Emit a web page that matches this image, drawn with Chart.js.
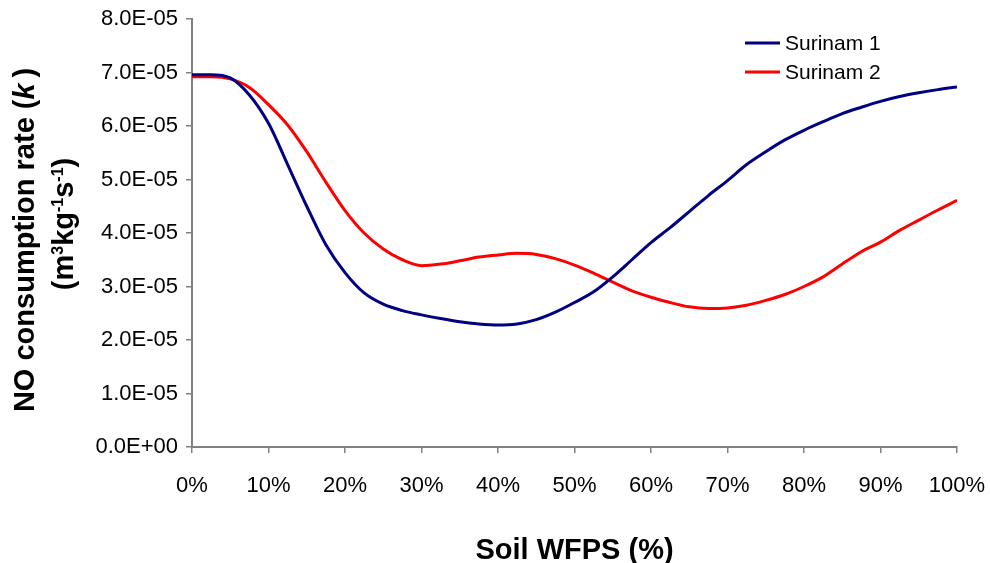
<!DOCTYPE html>
<html>
<head>
<meta charset="utf-8">
<title>NO consumption rate vs soil WFPS</title>
<script src="https://cdn.jsdelivr.net/npm/chart.js@4/dist/chart.umd.min.js"></script>
<style>
  html, body { margin: 0; padding: 0; background: #ffffff; }
  #wrap { width: 990px; height: 563px; position: relative; }
</style>
</head>
<body>
<div id="wrap"><canvas id="chart" width="990" height="563"></canvas></div>
<script>
// Soil water-filled pore space (%)
const wfps = [0, 2.5, 5, 7.5, 10, 12.5, 15, 17.5, 20, 22.5, 25, 27.5, 30, 32.5, 35, 37.5, 40,
  42.5, 45, 47.5, 50, 52.5, 55, 57.5, 60, 62.5, 65, 67.5, 70, 72.5, 75, 77.5, 80, 82.5, 85,
  87.5, 90, 92.5, 95, 97.5, 100];

// NO consumption rate k (m3 kg-1 s-1)
const surinam1 = [6.96e-5, 6.96e-5, 6.90e-5, 6.58e-5, 6.05e-5, 5.28e-5, 4.50e-5, 3.78e-5,
  3.26e-5, 2.88e-5, 2.67e-5, 2.55e-5, 2.47e-5, 2.40e-5, 2.34e-5, 2.30e-5, 2.28e-5, 2.30e-5,
  2.38e-5, 2.52e-5, 2.70e-5, 2.90e-5, 3.18e-5, 3.50e-5, 3.82e-5, 4.10e-5, 4.40e-5, 4.70e-5,
  4.98e-5, 5.28e-5, 5.52e-5, 5.74e-5, 5.92e-5, 6.08e-5, 6.23e-5, 6.35e-5, 6.46e-5, 6.55e-5,
  6.62e-5, 6.68e-5, 6.73e-5];

const surinam2 = [6.92e-5, 6.92e-5, 6.88e-5, 6.72e-5, 6.40e-5, 6.02e-5, 5.52e-5, 4.95e-5,
  4.42e-5, 4.00e-5, 3.70e-5, 3.50e-5, 3.39e-5, 3.42e-5, 3.48e-5, 3.55e-5, 3.59e-5, 3.62e-5,
  3.60e-5, 3.52e-5, 3.40e-5, 3.25e-5, 3.08e-5, 2.92e-5, 2.80e-5, 2.70e-5, 2.62e-5, 2.59e-5,
  2.60e-5, 2.65e-5, 2.74e-5, 2.85e-5, 3.00e-5, 3.18e-5, 3.42e-5, 3.65e-5, 3.83e-5, 4.05e-5,
  4.24e-5, 4.43e-5, 4.61e-5];

const seriesNames = ['Surinam 1', 'Surinam 2'];
const xTickStep = 10;
const yMax = 8e-5;
const yTickStep = 1e-5;

const FONT = "'Liberation Sans', Arial, Helvetica, sans-serif";
const AXIS_GREY = '#808080';

function toPoints(xs, ys) {
  return xs.map((x, i) => ({ x: x, y: ys[i] }));
}

// Excel-style scientific notation: 8.0E-05, 0.0E+00
function sci(v) {
  if (Math.abs(v) < 1e-12) return '0.0E+00';
  const e = Math.floor(Math.log10(Math.abs(v)) + 1e-9);
  const m = v / Math.pow(10, e);
  return m.toFixed(1) + 'E' + (e < 0 ? '-' : '+') + String(Math.abs(e)).padStart(2, '0');
}

// Rotated two-line y-axis title with italic k and superscripts
const yTitlePlugin = {
  id: 'yTitle',
  afterDraw(chart) {
    const ctx = chart.ctx;
    const size = 29;
    const supSize = 16;
    const runs1 = [
      { t: 'NO consumption rate (', f: 'bold ' + size + 'px ' + FONT, dy: 0 },
      { t: 'k', f: 'italic bold ' + size + 'px ' + FONT, dy: 0 },
      { t: '\u2009)', f: 'bold ' + size + 'px ' + FONT, dy: 0 }
    ];
    const runs2 = [
      { t: '(m', f: 'bold ' + size + 'px ' + FONT, dy: 0 },
      { t: '3', f: 'bold ' + supSize + 'px ' + FONT, dy: -10 },
      { t: 'kg', f: 'bold ' + size + 'px ' + FONT, dy: 0 },
      { t: '-1', f: 'bold ' + supSize + 'px ' + FONT, dy: -10 },
      { t: 's', f: 'bold ' + size + 'px ' + FONT, dy: 0 },
      { t: '-1', f: 'bold ' + supSize + 'px ' + FONT, dy: -10 },
      { t: ')', f: 'bold ' + size + 'px ' + FONT, dy: 0 }
    ];
    function drawRuns(runs, baselineX, centerY) {
      let total = 0;
      runs.forEach(r => { ctx.font = r.f; r.w = ctx.measureText(r.t).width; total += r.w; });
      ctx.save();
      ctx.translate(baselineX, centerY);
      ctx.rotate(-Math.PI / 2);
      ctx.fillStyle = '#000000';
      ctx.textBaseline = 'alphabetic';
      ctx.textAlign = 'left';
      let x = -total / 2;
      runs.forEach(r => {
        ctx.font = r.f;
        ctx.fillText(r.t, x, r.dy);
        x += r.w;
      });
      ctx.restore();
    }
    drawRuns(runs1, 34, 240);
    drawRuns(runs2, 73, 224);
  }
};

// Legend drawn inside the plot area, stacked vertically
const insideLegendPlugin = {
  id: 'insideLegend',
  afterDraw(chart) {
    const ctx = chart.ctx;
    const x0 = 745, lineLen = 35, textGap = 5, y0 = 43, rowH = 29;
    ctx.save();
    ctx.font = '21px ' + FONT;
    ctx.textBaseline = 'middle';
    ctx.textAlign = 'left';
    chart.data.datasets.forEach((ds, i) => {
      const y = y0 + i * rowH;
      ctx.strokeStyle = ds.borderColor;
      ctx.lineWidth = 3;
      ctx.beginPath();
      ctx.moveTo(x0, y);
      ctx.lineTo(x0 + lineLen, y);
      ctx.stroke();
      ctx.fillStyle = '#000000';
      ctx.fillText(ds.label, x0 + lineLen + textGap, y + 1);
    });
    ctx.restore();
  }
};

const ctx = document.getElementById('chart').getContext('2d');
new Chart(ctx, {
  type: 'line',
  data: {
    datasets: [
      {
        label: seriesNames[0],
        data: toPoints(wfps, surinam1),
        borderColor: '#000080',
        borderWidth: 3,
        pointRadius: 0,
        cubicInterpolationMode: 'monotone',
        fill: false
      },
      {
        label: seriesNames[1],
        data: toPoints(wfps, surinam2),
        borderColor: '#ff0000',
        borderWidth: 3,
        pointRadius: 0,
        cubicInterpolationMode: 'monotone',
        fill: false
      }
    ]
  },
  options: {
    responsive: false,
    animation: false,
    devicePixelRatio: 1,
    layout: { padding: { left: 0, right: 33, top: 19, bottom: 0 } },
    plugins: {
      legend: { display: false },
      tooltip: { enabled: false },
      title: { display: false }
    },
    scales: {
      x: {
        type: 'linear',
        min: 0,
        max: 100,
        afterFit(scale) {
          scale.height = 116;
          scale.paddingLeft = 0;
          scale.paddingRight = 0;
        },
        border: { display: true, color: AXIS_GREY, width: 2 },
        grid: { display: true, drawOnChartArea: false, drawTicks: true, tickLength: 6, color: AXIS_GREY, lineWidth: 1.5 },
        ticks: {
          stepSize: xTickStep,
          padding: 20,
          color: '#000000',
          font: { family: FONT, size: 22 },
          maxRotation: 0,
          callback: v => v + '%'
        },
        title: {
          display: true,
          text: 'Soil WFPS (%)',
          color: '#000000',
          font: { family: FONT, size: 29, weight: 'bold' },
          padding: { top: 0, bottom: -5 }
        }
      },
      y: {
        min: 0,
        max: yMax,
        afterFit(scale) {
          scale.width = 192;
          scale.paddingTop = 0;
          scale.paddingBottom = 0;
        },
        border: { display: true, color: AXIS_GREY, width: 2 },
        grid: { display: true, drawOnChartArea: false, drawTicks: true, tickLength: 6, color: AXIS_GREY, lineWidth: 1.5 },
        ticks: {
          stepSize: yTickStep,
          padding: 8,
          color: '#000000',
          font: { family: FONT, size: 22 },
          callback: v => sci(v)
        }
      }
    }
  },
  plugins: [yTitlePlugin, insideLegendPlugin]
});
</script>
</body>
</html>
